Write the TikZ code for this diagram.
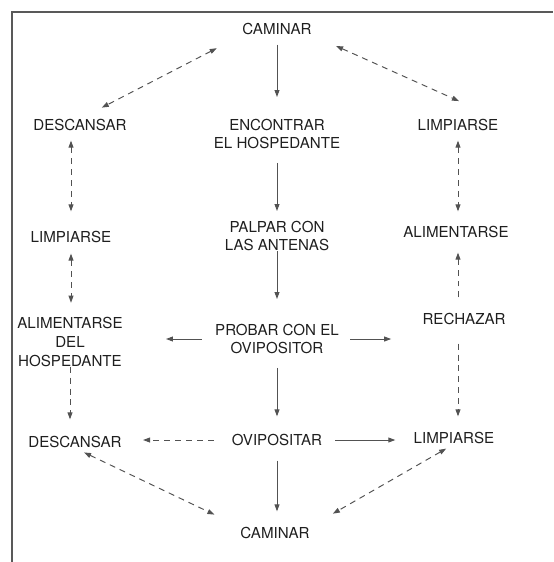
\documentclass[tikz,border=0pt]{standalone}
\usepackage{fontspec}
\setmainfont{TeX Gyre Heros}
\usetikzlibrary{arrows.meta}

\begin{document}
\begin{tikzpicture}[
  x=0.02cm, y=-0.02cm,
  >={Triangle[length=4pt, width=2.8pt]},
  every node/.style={font=\fontsize{8.6}{10.6}\selectfont, text=black!88, inner sep=0pt, align=center},
  arr/.style   = {->, line width=0.55pt, black!68},
  darr/.style  = {arr, dash pattern=on 3.4pt off 2.8pt},
  ddarr/.style = {darr, <->},
  frame/.style = {black!65, line width=0.8pt},
]
  \useasboundingbox (0,0) rectangle (554,562);
  \draw[frame] (12,562) -- (12,12) -- (553,12);

  % main sequence
  \node (cam1) at (277,29)  {CAMINAR};
  \node (enc)  at (277,134) {ENCONTRAR\\EL HOSPEDANTE};
  \node (pal)  at (277,236) {PALPAR CON\\LAS ANTENAS};
  \node (pro)  at (277,339) {PROBAR CON EL\\OVIPOSITOR};
  \node (ovi)  at (277,440) {OVIPOSITAR};
  \node (cam2) at (275,533) {CAMINAR};
  % left side
  \node (des1) at (80,125)  {DESCANSAR};
  \node (lim1) at (71,237)  {LIMPIARSE};
  \node (ali1) at (70,342)  {ALIMENTARSE\\DEL\\HOSPEDANTE};
  \node (des2) at (75,442)  {DESCANSAR};
  % right side
  \node (lim2) at (458,125) {LIMPIARSE};
  \node (ali2) at (456,232) {ALIMENTARSE};
  \node (rec)  at (464,319) {RECHAZAR};
  \node (lim3) at (454,438) {LIMPIARSE};

  \foreach \a/\b/\s/\e in {cam1/enc/0.19/0.43, enc/pal/0.27/0.19, pal/pro/0/0.49, pro/ovi/0.27/0.35, ovi/cam2/0.29/0.31}
    \draw[arr, shorten <=\s cm, shorten >=\e cm] (\a.south) -- (\a.south |- \b.north);

  \draw[arr, shorten <=0.26cm, shorten >=0.86cm] (pro.west) -- (pro.west -| ali1.east);
  \draw[arr, shorten <=0.22cm, shorten >=0.62cm] (pro.east) -- (pro.east -| rec.west);
  \draw[arr, shorten <=0.26cm, shorten >=0.36cm] (ovi.east) -- (ovi.east -| lim3.west);
  \draw[darr, shorten <=0.36cm, shorten >=0.42cm] (ovi.west) -- (ovi.west -| des2.east);

  % vertical dashed links
  \draw[ddarr, shorten <=0.19cm, shorten >=0.39cm] (des1.south -| lim1) -- (lim1.north);
  \draw[ddarr, shorten <=0.21cm, shorten >=0.29cm] (lim1.south) -- (lim1.south |- ali1.north);
  \draw[darr, shorten >=0.33cm] (ali1.south) -- (ali1.south |- des2.north);
  \draw[ddarr, shorten <=0.19cm, shorten >=0.29cm] (lim2.south) -- (lim2.south |- ali2.north);
  \draw[darr, shorten <=0.31cm, shorten >=0.29cm] (rec.north -| lim2) -- (ali2.south -| lim2);
  \draw[darr, shorten <=0.37cm, shorten >=0.31cm] (rec.south -| lim2) -- (lim3.north -| lim2);

  % diagonal dashed links
  \draw[ddarr, shorten <=0.57cm, shorten >=0.49cm] (cam1.south west) -- (des1.north);
  \draw[ddarr, shorten <=0.53cm, shorten >=0.87cm] (cam1.south east) -- (lim2.north east);
  \draw[ddarr, shorten <=0.20cm, shorten >=0.57cm] (des2.south) -- (cam2.north west);
  \draw[ddarr, shorten <=0.18cm, shorten >=0.53cm] (lim3.south) -- (cam2.north east);
\end{tikzpicture}
\end{document}
